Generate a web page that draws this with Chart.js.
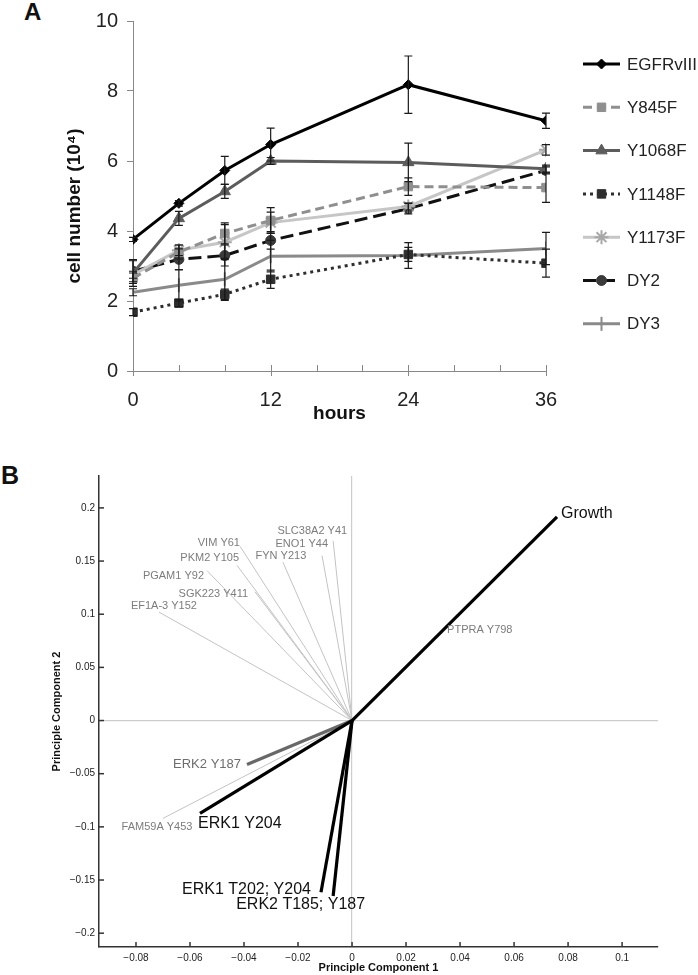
<!DOCTYPE html>
<html><head><meta charset="utf-8">
<script src="https://cdn.jsdelivr.net/npm/chart.js@4.4.1/dist/chart.umd.min.js"></script>
<style>
html,body{margin:0;padding:0;background:#fff;width:698px;height:975px;overflow:hidden;font-family:"Liberation Sans",Arial,sans-serif;}
#ca{position:absolute;left:0;top:0;}
#cb{position:absolute;left:0;top:440px;}
.pl{position:absolute;font-weight:bold;color:#111;line-height:1;}
</style></head><body>
<div class="pl" style="left:24px;top:0px;font-size:24px">A</div>
<div class="pl" style="left:1px;top:463px;font-size:25px">B</div>
<canvas id="ca" width="698" height="430"></canvas>
<canvas id="cb" width="698" height="535"></canvas>
<script>
// ---------- Panel A data ----------
const hours = [0, 4, 8, 12, 24, 36];
const seriesNames = ['EGFRvIII', 'Y845F', 'Y1068F', 'Y1148F', 'Y1173F', 'DY2', 'DY3'];
const egfrVals  = [3.76, 4.79, 5.73, 6.47, 8.18, 7.15];
const y845Vals  = [2.65, 3.40, 3.93, 4.30, 5.27, 5.24];
const y1068Vals = [2.80, 4.36, 5.13, 6.00, 5.96, 5.78];
const y1148Vals = [1.68, 1.94, 2.19, 2.62, 3.33, 3.08];
const y1173Vals = [2.75, 3.45, 3.68, 4.24, 4.70, 6.32];
const dy2Vals   = [2.85, 3.19, 3.30, 3.73, 4.64, 5.73];
const dy3Vals   = [2.25, 2.45, 2.62, 3.28, 3.30, 3.50];
const egfrErr  = [0.06, 0.08, 0.40, 0.47, 0.82, 0.22];
const y845Err  = [0.15, 0.20, 0.30, 0.37, 0.25, 0.42];
const y1068Err = [0.38, 0.20, 0.20, 0.10, 0.55, 0.10];
const y1148Err = [0.10, 0.10, 0.15, 0.26, 0.20, 0.40];
const y1173Err = [0.10, 0.15, 0.50, 0.30, 0.10, 0.15];
const dy2Err   = [0.30, 0.30, 0.30, 0.25, 0.15, 0.10];
const dy3Err   = [0.10, 0.45, 0.60, 0.45, 0.37, 0.46];
const yTicksA = [0, 2, 4, 6, 8, 10];
const xLabelsA = [0, 12, 24, 36];
const yTitleA = 'cell number (10\u2074)';

// ---------- Panel B data ----------
const vectorNames = ['PTPRA Y798','SLC38A2 Y41','ENO1 Y44','FYN Y213','VIM Y61','PKM2 Y105','PGAM1 Y92','SGK223 Y411','EF1A-3 Y152','FAM59A Y453','ERK2 Y187','Growth','ERK1 Y204','ERK1 T202; Y204','ERK2 T185; Y187'];
const pc1 = [0.0326, -0.0070, -0.0111, -0.0256, -0.0415, -0.0426, -0.0537, -0.0359, -0.0715, -0.0700, -0.0389, 0.0759, -0.0563, -0.0115, -0.0070];
const pc2 = [0.0830,  0.1690,  0.1550,  0.1490,  0.1640,  0.1460,  0.1410,  0.1210,  0.1020, -0.0920, -0.0413, 0.1915, -0.0873, -0.1615, -0.1650];

// ---------- styles ----------
const FONT = '"Liberation Sans", Arial, sans-serif';
Chart.defaults.font.family = FONT;
const seriesStyles = [
  {color:'#000000', dash:[], point:'rectRot', radius:5, pfill:'#000000', rot:0},
  {color:'#8f8f8f', dash:[9,5], point:'rect', radius:6, pfill:'#8f8f8f', rot:0},
  {color:'#5c5c5c', dash:[], point:'triangle', radius:6.5, pfill:'#5c5c5c', rot:0},
  {color:'#2e2e2e', dash:[3,4], point:'rect', radius:6, pfill:'#2e2e2e', rot:0},
  {color:'#c6c6c6', dash:[], point:'star', radius:7, pfill:'#a8a8a8', rot:0},
  {color:'#111111', dash:[13,6], point:'circle', radius:5, pfill:'#3a3a3a', rot:0},
  {color:'#8a8a8a', dash:[], point:'line', radius:7, pfill:'#8a8a8a', rot:90}
];
const seriesVals = [egfrVals, y845Vals, y1068Vals, y1148Vals, y1173Vals, dy2Vals, dy3Vals];
const seriesErrs = [egfrErr, y845Err, y1068Err, y1148Err, y1173Err, dy2Err, dy3Err];

const datasetsA = seriesNames.map((n, k) => {
  const s = seriesStyles[k];
  return {
    label: n,
    data: hours.map((h, i) => ({x: h, y: seriesVals[k][i]})),
    errors: seriesErrs[k],
    borderColor: s.color, borderDash: s.dash, borderWidth: 3, borderCapStyle: 'butt',
    pointStyle: s.point, pointRadius: s.radius, pointRotation: s.rot,
    pointBackgroundColor: s.pfill, pointBorderColor: s.pfill,
    pointBorderWidth: (s.point === 'star' || s.point === 'line') ? 2 : 1,
    tension: 0, fill: false
  };
});

const errorBarPlugin = {
  id: 'errbars',
  afterDatasetsDraw(chart) {
    const ctx = chart.ctx, ys = chart.scales.y;
    ctx.save();
    ctx.strokeStyle = '#1a1a1a'; ctx.lineWidth = 1.2; ctx.setLineDash([]);
    chart.data.datasets.forEach((ds, i) => {
      const meta = chart.getDatasetMeta(i);
      ds.data.forEach((p, j) => {
        const e = ds.errors[j]; const x = meta.data[j].x;
        const t = ys.getPixelForValue(p.y + e), b = ys.getPixelForValue(p.y - e);
        ctx.beginPath();
        ctx.moveTo(x, t); ctx.lineTo(x, b);
        ctx.moveTo(x - 4, t); ctx.lineTo(x + 4, t);
        ctx.moveTo(x - 4, b); ctx.lineTo(x + 4, b);
        ctx.stroke();
      });
    });
    ctx.restore();
  }
};

const xTicksAPlugin = {
  id: 'xticksA',
  afterDraw(chart) {
    const ctx = chart.ctx, xs = chart.scales.x, yb = chart.chartArea.bottom;
    ctx.save(); ctx.strokeStyle = '#888'; ctx.lineWidth = 1;
    xs.ticks.forEach(t => {
      const px = Math.round(xs.getPixelForValue(t.value)) + 0.5;
      ctx.beginPath();
      ctx.moveTo(px, yb - 6);
      ctx.lineTo(px, xLabelsA.includes(t.value) ? yb + 5 : yb);
      ctx.stroke();
    });
    ctx.restore();
  }
};

const yTitleAPlugin = {
  id: 'ytitleA',
  afterDraw(chart) {
    const ctx = chart.ctx, ca = chart.chartArea;
    ctx.save();
    ctx.translate(ca.left - 58, (ca.top + ca.bottom) / 2 + 10);
    ctx.rotate(-Math.PI / 2);
    ctx.font = 'bold 19px ' + FONT; ctx.fillStyle = '#111';
    ctx.textAlign = 'center'; ctx.textBaseline = 'middle';
    ctx.fillText(yTitleA, 0, 0);
    ctx.restore();
  }
};

const legendAPlugin = {
  id: 'legendA',
  afterDraw(chart) {
    const ctx = chart.ctx, ca = chart.chartArea;
    const x0 = ca.right + 37, x1 = ca.right + 74, tx = ca.right + 81;
    ctx.save();
    chart.data.datasets.forEach((ds, i) => {
      const y = ca.top + 43 + i * 43.3;
      ctx.strokeStyle = ds.borderColor; ctx.lineWidth = 3; ctx.setLineDash(ds.borderDash);
      ctx.beginPath(); ctx.moveTo(x0, y); ctx.lineTo(x1, y); ctx.stroke();
      ctx.setLineDash([]);
      ctx.fillStyle = ds.pointBackgroundColor; ctx.strokeStyle = ds.pointBorderColor;
      ctx.lineWidth = ds.pointBorderWidth;
      Chart.helpers.drawPoint(ctx, {pointStyle: ds.pointStyle, rotation: ds.pointRotation, radius: ds.pointRadius, borderWidth: ds.pointBorderWidth}, (x0 + x1) / 2, y);
      ctx.fillStyle = '#222'; ctx.font = '17px ' + FONT; ctx.textAlign = 'left'; ctx.textBaseline = 'middle';
      ctx.fillText(ds.label, tx, y + 1);
    });
    ctx.restore();
  }
};

new Chart(document.getElementById('ca'), {
  type: 'line',
  data: {datasets: datasetsA},
  options: {
    responsive: false, animation: false, devicePixelRatio: 1,
    layout: {padding: {top: 20, right: 152, left: 65, bottom: 0}},
    plugins: {legend: {display: false}, tooltip: {enabled: false}},
    scales: {
      x: {
        type: 'linear', min: 0, max: 36,
        ticks: {stepSize: 4, autoSkip: false, maxRotation: 0, padding: 17, color: '#222', font: {size: 20},
                callback: v => xLabelsA.includes(v) ? String(v) : ''},
        grid: {display: false, drawTicks: false},
        border: {display: true, color: '#888', width: 1},
        title: {display: true, text: 'hours', color: '#111', font: {size: 19, weight: 'bold'}, padding: {top: 0, bottom: 5}},
        afterFit: s => { s.height = 59; }
      },
      y: {
        min: 0, max: 10,
        afterBuildTicks: s => { s.ticks = yTicksA.map(v => ({value: v})); },
        ticks: {padding: 9, color: '#222', font: {size: 20}},
        grid: {drawOnChartArea: false, drawTicks: true, tickLength: 6, color: '#888'},
        border: {display: true, color: '#888', width: 1},
        title: {display: false},
        afterFit: s => { s.width = 68; }
      }
    }
  },
  plugins: [errorBarPlugin, xTicksAPlugin, legendAPlugin, yTitleAPlugin]
});

// ---------- Panel B ----------
const vecLineStyle = {
  strong: {color: '#000000', width: 3.2},
  mid:    {color: '#686868', width: 3.2},
  weak:   {color: '#c3c3c3', width: 1}
};
const vecGroup = {
  'Growth': 'strong', 'ERK1 Y204': 'strong', 'ERK1 T202; Y204': 'strong', 'ERK2 T185; Y187': 'strong',
  'ERK2 Y187': 'mid'
};
const vecLabelFont = {
  strong: {size: 16, color: '#111'},
  mid:    {size: 13, color: '#6e6e6e'},
  weak:   {size: 11, color: '#7c7c7c'}
};
const vecLabelPos = {
  'Growth': {dx: 4, dy: -3, align: 'left'},
  'PTPRA Y798': {dx: 7, dy: -2, align: 'left'},
  'SLC38A2 Y41': {dx: 14, dy: -10, align: 'right'},
  'ENO1 Y44': {dx: 6, dy: -12, align: 'right'},
  'FYN Y213': {dx: -2, dy: -6, align: 'center'},
  'VIM Y61': {dx: 0, dy: -3, align: 'right'},
  'PKM2 Y105': {dx: 2, dy: -7, align: 'right'},
  'PGAM1 Y92': {dx: -3, dy: 5, align: 'right'},
  'SGK223 Y411': {dx: -7, dy: 2, align: 'right'},
  'EF1A-3 Y152': {dx: 5, dy: -6, align: 'center'},
  'ERK2 Y187': {dx: -6, dy: 0, align: 'right'},
  'FAM59A Y453': {dx: -6, dy: 9, align: 'center'},
  'ERK1 Y204': {dx: -2, dy: 10, align: 'left'},
  'ERK1 T202; Y204': {dx: -10, dy: -3, align: 'right'},
  'ERK2 T185; Y187': {dx: 32, dy: 9, align: 'right'}
};
const grp = n => vecGroup[n] || 'weak';

const datasetsB = vectorNames.map((n, i) => {
  const st = vecLineStyle[grp(n)];
  return {
    label: n,
    data: [{x: 0, y: 0}, {x: pc1[i], y: pc2[i]}],
    showLine: true, pointRadius: 0, borderColor: st.color, borderWidth: st.width,
    order: grp(n) === 'weak' ? 3 : (grp(n) === 'mid' ? 2 : 1)
  };
});

const fmtB = v => {
  if (Math.abs(v) < 1e-9) return '0';
  return String(+v.toFixed(3)).replace('-', '\u2212');
};
const zeroGrid = c => (c.tick && Math.abs(c.tick.value) < 1e-9) ? '#cdcdcd' : 'rgba(0,0,0,0)';

const ticksBPlugin = {
  id: 'ticksB',
  afterDraw(chart) {
    const ctx = chart.ctx, ca = chart.chartArea, xs = chart.scales.x, ys = chart.scales.y;
    ctx.save(); ctx.strokeStyle = '#333'; ctx.lineWidth = 1.5;
    xs.ticks.forEach(t => {
      const px = xs.getPixelForValue(t.value);
      ctx.beginPath(); ctx.moveTo(px, ca.bottom); ctx.lineTo(px, ca.bottom - 5); ctx.stroke();
    });
    ys.ticks.forEach(t => {
      const py = ys.getPixelForValue(t.value);
      ctx.beginPath(); ctx.moveTo(ca.left, py); ctx.lineTo(ca.left + 5, py); ctx.stroke();
    });
    ctx.restore();
  }
};

const labelsBPlugin = {
  id: 'labelsB',
  afterDatasetsDraw(chart) {
    const ctx = chart.ctx, xs = chart.scales.x, ys = chart.scales.y;
    ctx.save(); ctx.textBaseline = 'middle';
    vectorNames.forEach((n, i) => {
      const f = vecLabelFont[grp(n)], p = vecLabelPos[n];
      const px = xs.getPixelForValue(pc1[i]) + p.dx, py = ys.getPixelForValue(pc2[i]) + p.dy;
      ctx.font = f.size + 'px ' + FONT; ctx.fillStyle = f.color; ctx.textAlign = p.align;
      ctx.fillText(n, px, py);
    });
    ctx.restore();
  }
};

new Chart(document.getElementById('cb'), {
  type: 'scatter',
  data: {datasets: datasetsB},
  options: {
    responsive: false, animation: false, devicePixelRatio: 1,
    layout: {padding: {top: 36, right: 40, left: 50, bottom: 0}},
    plugins: {legend: {display: false}, tooltip: {enabled: false}},
    scales: {
      x: {
        type: 'linear', min: -0.0937, max: 0.1133,
        ticks: {stepSize: 0.02, includeBounds: false, autoSkip: false, maxRotation: 0, padding: 5, color: '#222', font: {size: 10}, callback: fmtB},
        grid: {drawTicks: false, color: zeroGrid, lineWidth: 1.2},
        border: {display: true, color: '#333', width: 1.5},
        title: {display: true, text: 'Principle Component 1', color: '#111', font: {size: 11, weight: 'bold'}, padding: {top: 0, bottom: 0}},
        afterFit: s => { s.height = 28; }
      },
      y: {
        type: 'linear', min: -0.213, max: 0.23,
        ticks: {stepSize: 0.05, includeBounds: false, autoSkip: false, padding: 4, color: '#222', font: {size: 10}, callback: fmtB},
        grid: {drawTicks: false, color: zeroGrid, lineWidth: 1.2},
        border: {display: true, color: '#333', width: 1.5},
        title: {display: true, text: 'Principle Component 2', color: '#111', font: {size: 11, weight: 'bold'}, padding: {top: 0, bottom: 0}},
        afterFit: s => { s.width = 49; }
      }
    }
  },
  plugins: [ticksBPlugin, labelsBPlugin]
});
</script>
</body></html>
